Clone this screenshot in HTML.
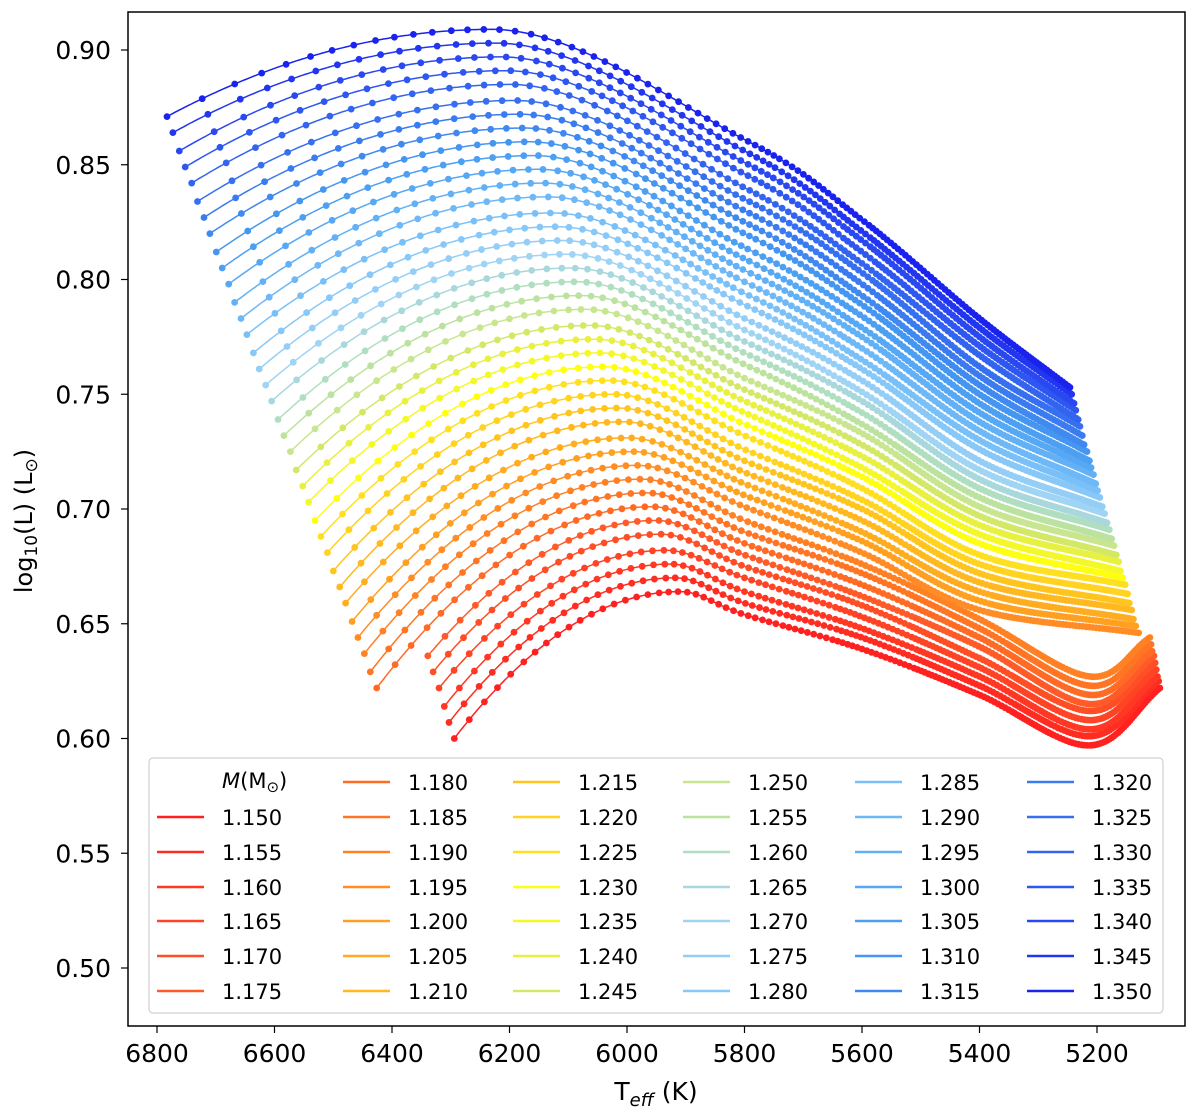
<!DOCTYPE html>
<html><head><meta charset="utf-8">
<style>
html,body{margin:0;padding:0;background:#fff;}
svg{display:block;font-family:"DejaVu Sans","Liberation Sans",sans-serif;}
</style></head>
<body>
<svg id="chart" width="1200" height="1115" viewBox="0 0 1200 1115">
  <g id="tracks"></g>
  <rect x="128" y="12" width="1057" height="1014" fill="none" stroke="#000" stroke-width="1.5"/>
  <g id="xticks"></g>
  <g id="yticks"></g>
  <text x="656" y="1100" font-size="25" text-anchor="middle">T<tspan font-size="18" dy="6" font-style="italic">eff</tspan><tspan dy="-6"> (K)</tspan></text>
  <text transform="translate(32,521) rotate(-90)" font-size="24" text-anchor="middle">log<tspan font-size="17" dy="5">10</tspan><tspan dy="-5">(L) (L</tspan><tspan font-size="17" dy="5">⊙</tspan><tspan dy="-5">)</tspan></text>
  <g id="legend">
    <rect x="149" y="758" width="1014" height="255" rx="4" fill="#fff" fill-opacity="0.85" stroke="#d0d0d0" stroke-width="1.2"/>
    <text x="222" y="788" font-size="21"><tspan font-style="italic">M</tspan>(M<tspan font-size="15" dy="4">⊙</tspan><tspan dy="-4">)</tspan></text>
  </g>
</svg>
<script>
const masses = [1.150,1.155,1.160,1.165,1.170,1.175,1.180,1.185,1.190,1.195,1.200,1.205,1.210,1.215,1.220,1.225,1.230,1.235,1.240,1.245,1.250,1.255,1.260,1.265,1.270,1.275,1.280,1.285,1.290,1.295,1.300,1.305,1.310,1.315,1.320,1.325,1.330,1.335,1.340,1.345,1.350];
const startT = [6294,6303,6311,6320,6330,6339,6426,6437,6447,6458,6468,6479,6489,6500,6510,6521,6531,6542,6552,6563,6573,6584,6594,6605,6615,6626,6636,6647,6657,6668,6678,6689,6699,6710,6720,6731,6741,6752,6762,6773,6783];
const startL = [0.600,0.607,0.614,0.622,0.629,0.636,0.622,0.629,0.637,0.644,0.651,0.659,0.666,0.673,0.681,0.688,0.695,0.703,0.710,0.717,0.725,0.732,0.739,0.747,0.754,0.761,0.768,0.776,0.783,0.790,0.798,0.805,0.812,0.820,0.827,0.834,0.842,0.849,0.856,0.864,0.871];
const peakT = [5910,5918,5926,5934,5942,5950,5958,5966,5974,5982,5990,5998,6006,6014,6022,6030,6038,6046,6054,6062,6070,6078,6086,6094,6102,6110,6118,6126,6134,6142,6150,6158,6166,6174,6182,6190,6198,6206,6214,6222,6230];
const peakL = [0.664,0.670,0.676,0.682,0.689,0.695,0.701,0.707,0.713,0.719,0.725,0.731,0.738,0.744,0.750,0.756,0.762,0.768,0.774,0.780,0.787,0.793,0.799,0.805,0.811,0.817,0.823,0.829,0.836,0.842,0.848,0.854,0.860,0.866,0.872,0.878,0.885,0.891,0.897,0.903,0.909];
const L5800 = [0.654,0.659,0.664,0.670,0.675,0.680,0.685,0.690,0.695,0.701,0.706,0.711,0.716,0.721,0.726,0.732,0.737,0.742,0.747,0.752,0.757,0.763,0.768,0.773,0.778,0.783,0.789,0.794,0.799,0.804,0.809,0.814,0.820,0.825,0.830,0.835,0.840,0.846,0.851,0.856,0.861];
const L5600 = [0.639,0.644,0.648,0.653,0.658,0.662,0.667,0.672,0.676,0.681,0.686,0.690,0.695,0.700,0.704,0.709,0.714,0.718,0.723,0.728,0.733,0.737,0.742,0.747,0.751,0.756,0.761,0.765,0.770,0.775,0.779,0.784,0.789,0.793,0.798,0.803,0.807,0.812,0.817,0.821,0.826];
const L5400 = [0.619,0.623,0.627,0.631,0.635,0.640,0.644,0.648,0.652,0.656,0.660,0.664,0.668,0.672,0.676,0.680,0.685,0.689,0.693,0.697,0.701,0.705,0.709,0.713,0.717,0.721,0.726,0.730,0.734,0.738,0.742,0.746,0.750,0.754,0.758,0.762,0.767,0.771,0.775,0.779,0.783];
const minT = [5212,5212,5212,5212,5212,5212,5212,5212,5212];
const minL = [0.597,0.601,0.604,0.608,0.612,0.615,0.619,0.623,0.627];
const endT = [5093,5095,5097,5099,5101,5103,5106,5108,5110,5129,5134,5138,5141,5145,5148,5152,5156,5160,5163,5167,5171,5175,5179,5183,5187,5191,5195,5199,5202,5206,5210,5213,5217,5222,5225,5229,5232,5236,5239,5243,5246];
const endL = [0.622,0.625,0.627,0.630,0.633,0.636,0.638,0.641,0.644,0.646,0.649,0.652,0.656,0.659,0.663,0.667,0.670,0.673,0.677,0.680,0.684,0.687,0.691,0.694,0.698,0.701,0.705,0.708,0.711,0.715,0.718,0.721,0.725,0.728,0.732,0.736,0.739,0.743,0.746,0.750,0.753];
const xTicks = [6800,6600,6400,6200,6000,5800,5600,5400,5200];
const yTicks = [0.90,0.85,0.80,0.75,0.70,0.65,0.60,0.55,0.50];

const NS = "http://www.w3.org/2000/svg";
const xScale = T => 157 + (6800 - T) * 0.5875;
const yScale = L => 50 + (0.90 - L) * 2295;

const stops = [[0,"#ff2020"],[5,"#ff5a28"],[6,"#ff6a24"],[9,"#ff8c24"],[10,"#ffa020"],[12,"#ffb820"],[13,"#ffc51e"],[15,"#ffe020"],[16,"#ffff10"],[18,"#e8f040"],[19,"#d4e868"],[20,"#c8e690"],[21,"#bce2a0"],[22,"#b0dec0"],[23,"#a8d8dc"],[24,"#a0d4f4"],[26,"#88c8f8"],[27,"#7ac0f8"],[30,"#56a8f4"],[32,"#4496f0"],[34,"#3a7cf0"],[36,"#3264f0"],[38,"#2a48f0"],[40,"#1a22ee"]];
function hex(c){return [parseInt(c.slice(1,3),16),parseInt(c.slice(3,5),16),parseInt(c.slice(5,7),16)];}
function colorAt(i){
  for(let k=0;k<stops.length-1;k++){
    const a=stops[k],b=stops[k+1];
    if(i>=a[0]&&i<=b[0]){
      const t=(i-a[0])/((b[0]-a[0])||1);const A=hex(a[1]),B=hex(b[1]);
      return "rgb("+A.map((v,j)=>Math.round(v+(B[j]-v)*t)).join(",")+")";
    }
  }
  return stops[stops.length-1][1];
}

function buildTrack(i){
  const pts=[];
  for(let k=0;k<=120;k++){
    const t=k/120;
    const T=startT[i]+(peakT[i]-startT[i])*t;
    const L=peakL[i]-(peakL[i]-startL[i])*Math.pow(1-t,2);
    pts.push([xScale(T),yScale(L)]);
  }
  const P=[xScale(peakT[i]),yScale(peakL[i])];
  const K=[P,[xScale(5800),yScale(L5800[i])],[xScale(5600),yScale(L5600[i])],[xScale(5400),yScale(L5400[i])]];
  if(i<minT.length) K.push([xScale(minT[i]),yScale(minL[i])]);
  K.push([xScale(endT[i]),yScale(endL[i])]);
  const n=K.length;
  const M=K.map((p,k)=>{
    if(k===0) return [K[1][0]-K[0][0],0];
    if(k===n-1) return [K[k][0]-K[k-1][0],K[k][1]-K[k-1][1]];
    return [(K[k+1][0]-K[k-1][0])/2,(K[k+1][1]-K[k-1][1])/2];
  });
  for(let k=0;k<n-1;k++){
    for(let s=1;s<=100;s++){
      const t=s/100,t2=t*t,t3=t2*t;
      const h00=2*t3-3*t2+1,h10=t3-2*t2+t,h01=-2*t3+3*t2,h11=t3-t2;
      pts.push([h00*K[k][0]+h10*M[k][0]+h01*K[k+1][0]+h11*M[k+1][0],
                h00*K[k][1]+h10*M[k][1]+h01*K[k+1][1]+h11*M[k+1][1]]);
    }
  }
  return pts;
}

function circ(p,r){return "M"+(p[0]-r).toFixed(1)+","+p[1].toFixed(1)+"a"+r+","+r+" 0 1,0 "+(2*r)+",0a"+r+","+r+" 0 1,0 "+(-2*r)+",0";}

const g=document.getElementById("tracks");
for(let i=0;i<masses.length;i++){
  const pts=buildTrack(i);
  const col=colorAt(i);
  const line=document.createElementNS(NS,"path");
  line.setAttribute("d","M"+pts.map(p=>p[0].toFixed(1)+","+p[1].toFixed(1)).join("L"));
  line.setAttribute("fill","none");line.setAttribute("stroke",col);line.setAttribute("stroke-width","1.5");
  
  
  g.appendChild(line);
  const r=3.4;let d=circ(pts[0],r);let acc=0,arc=0;
  const spacing=x=>{const u=Math.max(0,(1080-x)/920);return 2.4+26*Math.pow(u,1.7);};
  let prev=pts[0];let next=spacing(prev[0])*1.4;
  for(let k=1;k<pts.length;k++){
    const p=pts[k];const seg=Math.hypot(p[0]-prev[0],p[1]-prev[1]);
    acc+=seg;arc+=seg;
    if(acc>=next){
      d+=circ(p,r);
      acc=0;next=spacing(p[0])*(1+0.5*Math.exp(-arc/60));
    }
    prev=p;
  }
  d+=circ(pts[pts.length-1],r);
  const dots=document.createElementNS(NS,"path");
  dots.setAttribute("d",d);dots.setAttribute("fill",col);
  
  
  g.appendChild(dots);
}

const xg=document.getElementById("xticks");
xTicks.forEach(T=>{
  const x=xScale(T);
  const l=document.createElementNS(NS,"line");
  l.setAttribute("x1",x);l.setAttribute("x2",x);l.setAttribute("y1",1026);l.setAttribute("y2",1033);
  l.setAttribute("stroke","#000");l.setAttribute("stroke-width","1.2");
  
  
  xg.appendChild(l);
  const t=document.createElementNS(NS,"text");
  t.setAttribute("x",x);t.setAttribute("y",1062);t.setAttribute("font-size","25");t.setAttribute("text-anchor","middle");
  t.textContent=String(T);
  
  
  xg.appendChild(t);
});
const yg=document.getElementById("yticks");
yTicks.forEach(L=>{
  const y=yScale(L);
  const l=document.createElementNS(NS,"line");
  l.setAttribute("x1",121);l.setAttribute("x2",128);l.setAttribute("y1",y);l.setAttribute("y2",y);
  l.setAttribute("stroke","#000");l.setAttribute("stroke-width","1.2");
  
  
  yg.appendChild(l);
  const t=document.createElementNS(NS,"text");
  t.setAttribute("x",111);t.setAttribute("y",y+9);t.setAttribute("font-size","25");t.setAttribute("text-anchor","end");
  t.textContent=L.toFixed(2);
  
  
  yg.appendChild(t);
});

const lg=document.getElementById("legend");
const colX=[157,343,513,683,855,1027];
const rowY=[781,816,851,886,920,955,990];
masses.forEach((m,i)=>{
  const slot=i+1;const c=Math.floor(slot/7),r=slot%7;
  const x=colX[c],y=rowY[r];
  const l=document.createElementNS(NS,"line");
  l.setAttribute("x1",x);l.setAttribute("x2",x+47);l.setAttribute("y1",y+1);l.setAttribute("y2",y+1);
  l.setAttribute("stroke",colorAt(i));l.setAttribute("stroke-width","2.5");
  
  
  lg.appendChild(l);
  const t=document.createElementNS(NS,"text");
  t.setAttribute("x",x+65);t.setAttribute("y",y+9);t.setAttribute("font-size","21");
  t.textContent=m.toFixed(3);
  
  
  lg.appendChild(t);
});
</script>
</body></html>
